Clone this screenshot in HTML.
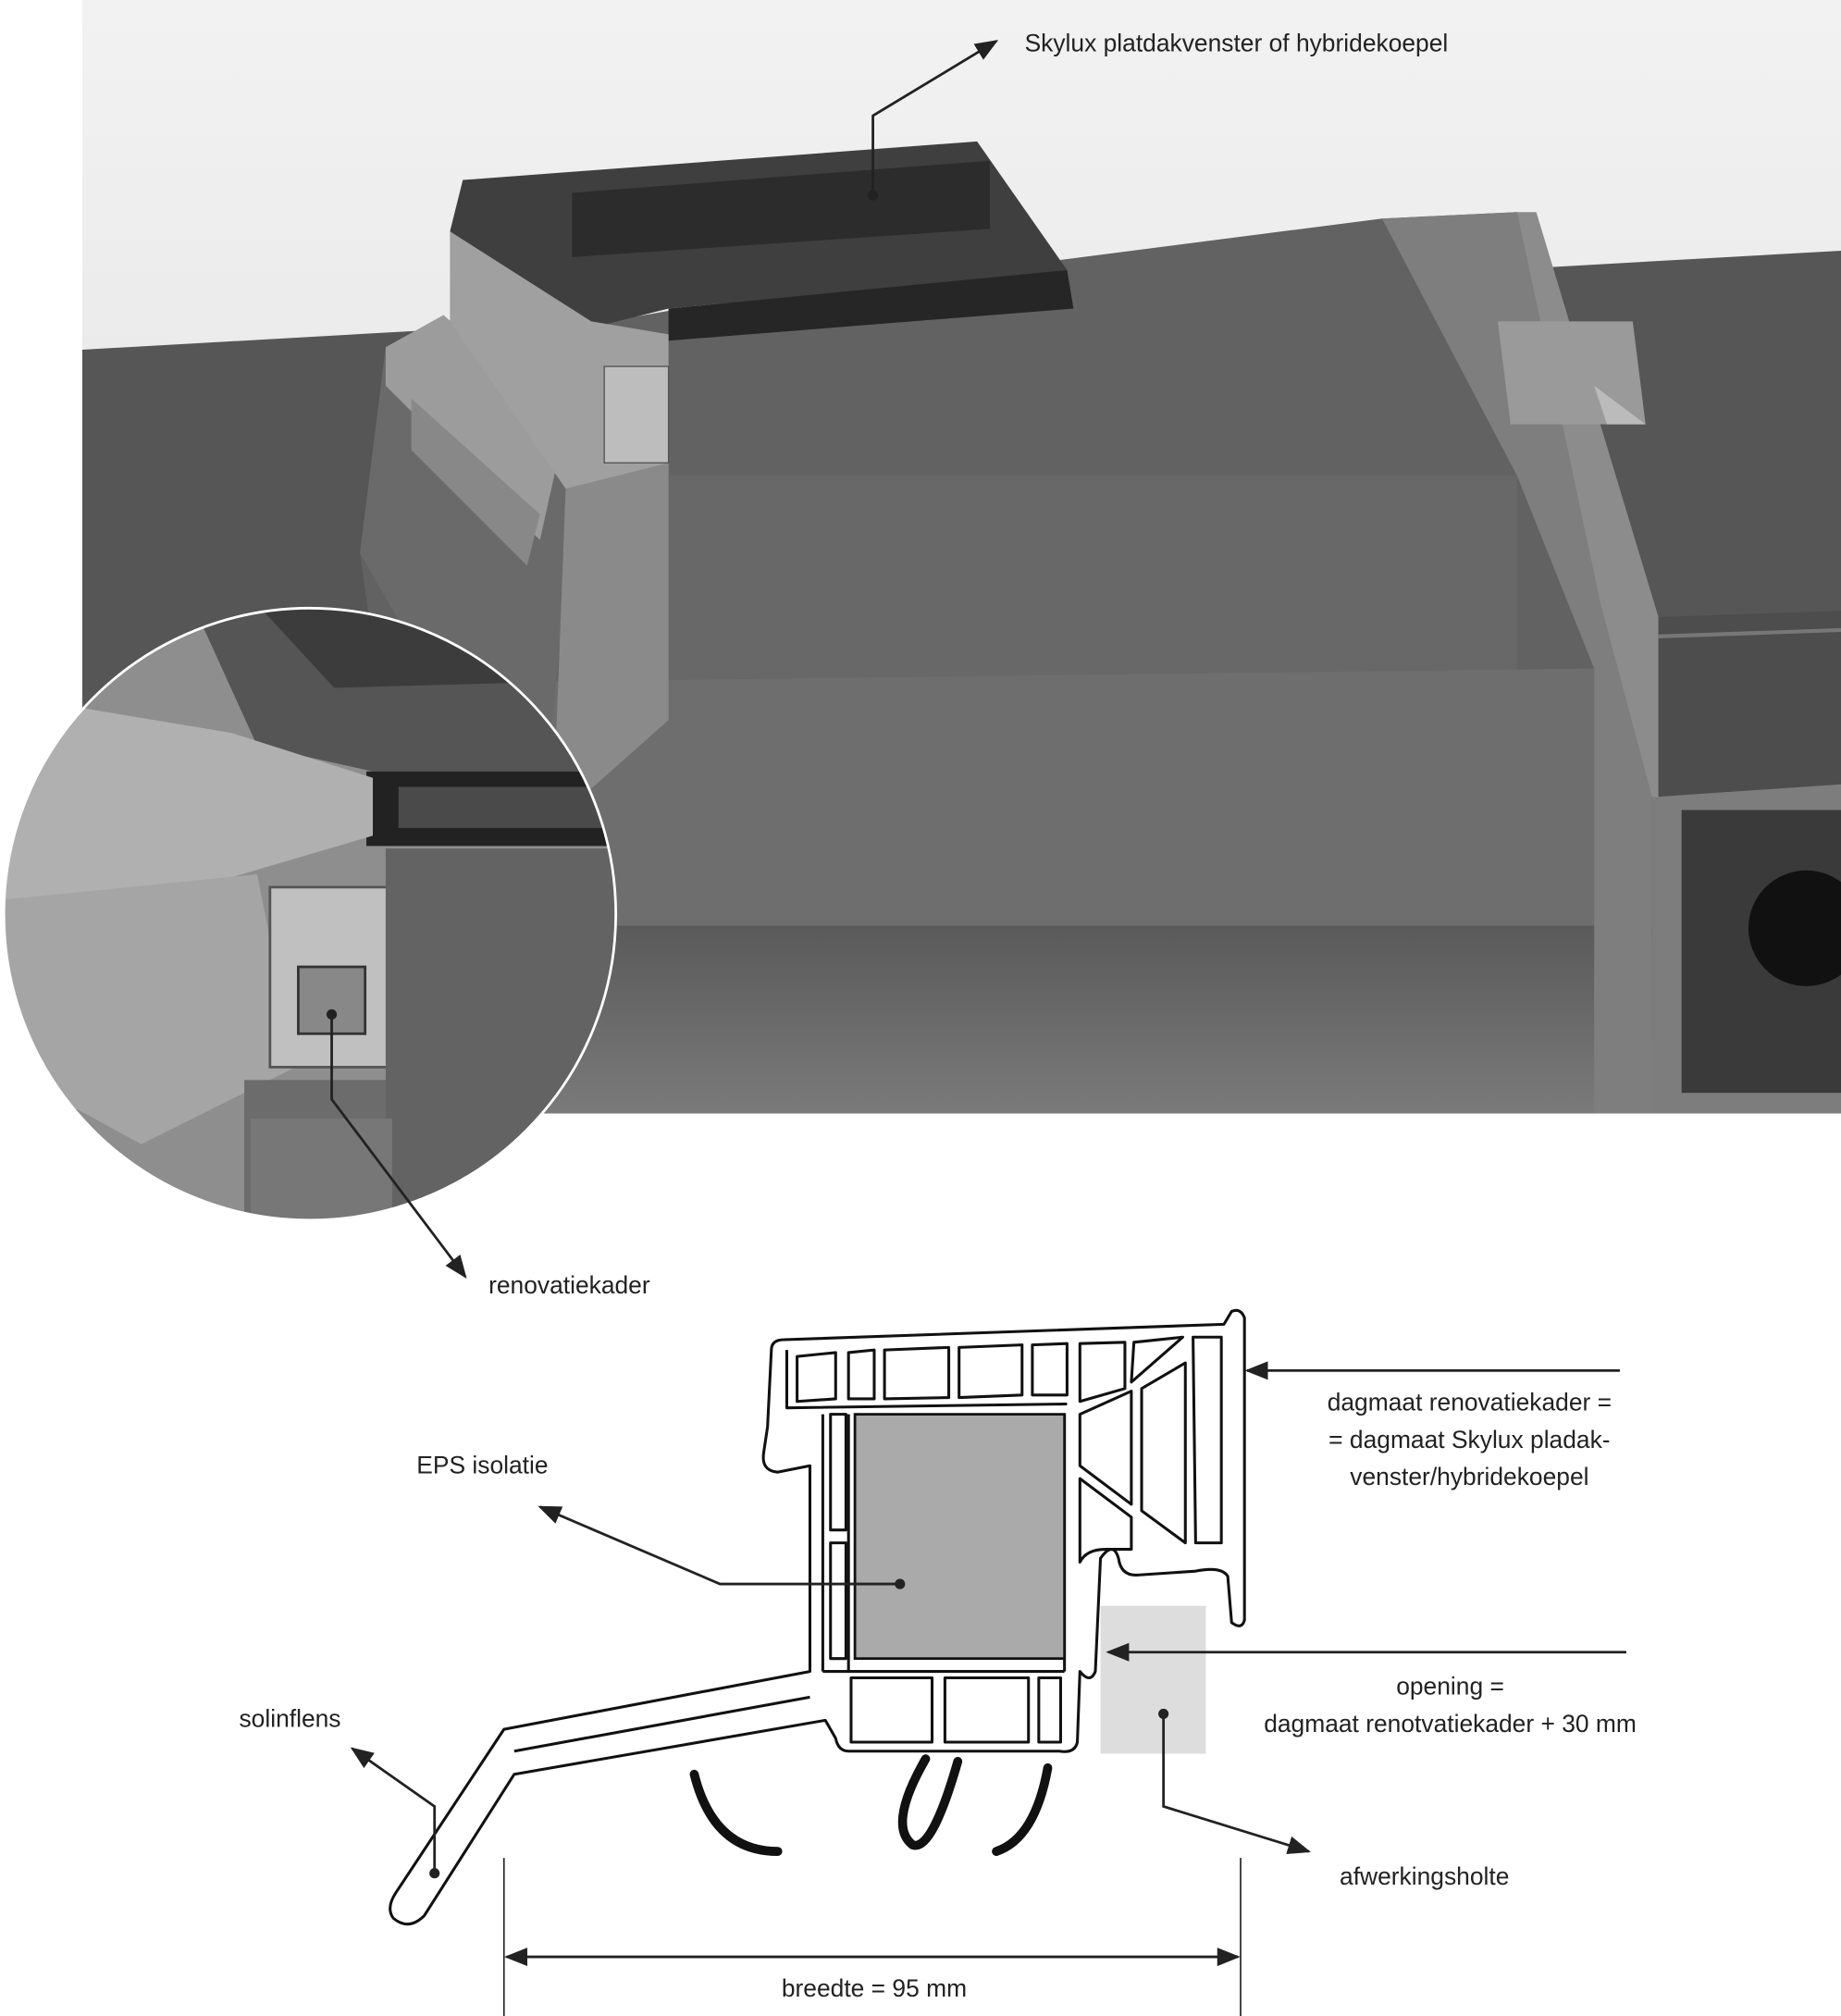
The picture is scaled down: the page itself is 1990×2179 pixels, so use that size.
<!DOCTYPE html>
<html><head><meta charset="utf-8">
<style>
html,body{margin:0;padding:0;background:#fff;}
svg{display:block;}
text{font-family:"Liberation Sans",sans-serif;font-size:19px;fill:#222;}
</style></head>
<body>
<svg width="1990" height="2179" viewBox="0 0 1432 1568" xmlns="http://www.w3.org/2000/svg">
<defs>
<linearGradient id="sky" x1="0" y1="0" x2="0" y2="1"><stop offset="0" stop-color="#f2f2f2"/><stop offset="1" stop-color="#dcdcdc"/></linearGradient>
<linearGradient id="floor" x1="0" y1="0" x2="0" y2="1"><stop offset="0" stop-color="#5a5a5a"/><stop offset="1" stop-color="#7a7a7a"/></linearGradient>
<clipPath id="circ"><circle cx="241" cy="711" r="238"/></clipPath>
<marker id="ah" viewBox="0 0 10 10" refX="9" refY="5" markerWidth="9" markerHeight="9" orient="auto-start-reverse"><path d="M0,1 L10,5 L0,9 z" fill="#222"/></marker>
</defs>

<!-- photo -->
<rect x="64" y="0" width="1368" height="866" fill="url(#sky)"/>
<polygon points="64,272 1432,195 1432,866 64,866" fill="#565656"/>
<!-- well -->
<polygon points="280,430 360,270 530,240 1075,170 1180,165 1290,480 1290,866 340,866" fill="#626262"/>
<polygon points="520,370 1180,370 1180,530 440,540" fill="#686868"/>
<polygon points="430,530 1240,520 1240,720 380,720" fill="#6e6e6e"/>
<polygon points="380,720 1290,720 1290,866 380,866" fill="url(#floor)"/>
<!-- right column -->
<polygon points="1075,170 1180,165 1245,470 1285,620 1285,866 1240,866 1240,520 1180,370" fill="#7e7e7e"/>
<polygon points="1180,165 1195,165 1290,480 1290,620 1285,620 1245,470" fill="#8c8c8c"/>
<polygon points="1165,250 1270,250 1280,330 1175,330" fill="#9a9a9a"/>
<polygon points="1240,300 1280,330 1250,330" fill="#bbb"/>
<polygon points="1290,480 1432,475 1432,620 1290,630" fill="#4d4d4d"/>
<line x1="1290" y1="495" x2="1432" y2="490" stroke="#777" stroke-width="3"/>
<polygon points="1285,620 1432,610 1432,866 1285,866" fill="#7d7d7d"/>
<rect x="1308" y="630" width="124" height="220" fill="#3a3a3a"/>
<circle cx="1405" cy="722" r="45" fill="#111"/>
<!-- left frame -->
<polygon points="280,430 300,270 360,245 450,340 430,560 380,640 320,500" fill="#6a6a6a"/>
<polygon points="300,270 345,245 440,330 420,420 300,300" fill="#9c9c9c"/>
<polygon points="320,310 420,400 410,440 320,350" fill="#888"/>
<polygon points="360,140 760,110 830,210 520,240 460,255 350,180" fill="#3f3f3f"/>
<polygon points="445,150 770,125 770,178 445,200" fill="#2c2c2c"/>
<polygon points="520,240 830,210 835,240 520,265" fill="#262626"/>
<polygon points="350,180 460,250 520,260 520,370 440,380 350,250" fill="#a0a0a0"/>
<polygon points="440,380 520,360 520,560 430,640" fill="#8a8a8a"/>
<rect x="470" y="285" width="50" height="75" fill="#bdbdbd" stroke="#555"/>

<!-- circle detail -->
<g clip-path="url(#circ)">
<rect x="0" y="470" width="480" height="480" fill="#8e8e8e"/>
<polygon points="150,470 480,470 480,600 290,600 200,580" fill="#555"/>
<polygon points="200,470 440,470 440,530 260,535" fill="#3c3c3c"/>
<rect x="285" y="600" width="200" height="58" fill="#222"/>
<rect x="310" y="612" width="170" height="32" fill="#4a4a4a"/>
<polygon points="0,540 180,570 290,605 290,650 120,700 0,760" fill="#b0b0b0"/>
<polygon points="0,700 200,680 230,830 110,890 0,830" fill="#a5a5a5"/>
<rect x="210" y="690" width="110" height="140" fill="#c0c0c0" stroke="#555" stroke-width="2"/>
<rect x="232" y="752" width="52" height="52" fill="#888" stroke="#333" stroke-width="2"/>
<rect x="190" y="840" width="130" height="110" fill="#6c6c6c"/>
<rect x="300" y="660" width="180" height="290" fill="#636363"/>
<rect x="195" y="870" width="110" height="80" fill="#777"/>
</g>
<circle cx="241" cy="711" r="238" fill="none" stroke="#fff" stroke-width="2"/>

<!-- photo annotations -->
<circle cx="679" cy="152" r="4" fill="#222"/>
<polyline points="679,152 679,90 775,32" fill="none" stroke="#222" stroke-width="2" marker-end="url(#ah)"/>
<text x="797" y="40">Skylux platdakvenster of hybridekoepel</text>
<circle cx="258" cy="789" r="4" fill="#222"/>
<polyline points="258,789 258,855 362,993" fill="none" stroke="#222" stroke-width="2" marker-end="url(#ah)"/>
<text x="380" y="1006">renovatiekader</text>

<!-- profile -->
<g fill="none" stroke="#111" stroke-width="2.2" stroke-linejoin="round">
<path d="M600,1050 Q600,1042 610,1042 L952,1030 L958,1020 Q965,1017 968,1025 L968,1260 Q966,1268 958,1262 L955,1226 Q950,1218 930,1222 L885,1225 Q872,1226 870,1212 Q866,1198 856,1212 L852,1300 Q848,1310 840,1300 L838,1355 Q836,1364 824,1362 L660,1362 Q652,1362 650,1352 L642,1338 L400,1380 L330,1490 Q318,1502 306,1492 Q300,1484 308,1472 L392,1345 L630,1300 L630,1140 L605,1145 Q592,1144 594,1130 L597,1110 Z"/>
<path d="M612,1050 L612,1095 L830,1092 M640,1100 L640,1300 M660,1100 L660,1300 M828,1100 L828,1300 M640,1300 L828,1300"/>
<path d="M620,1055 L650,1052 L650,1088 L620,1090 Z M660,1052 L680,1050 L680,1088 L660,1088 Z M688,1050 L738,1048 L738,1087 L688,1088 Z M746,1048 L795,1046 L795,1085 L746,1087 Z M803,1046 L830,1045 L830,1085 L803,1085 Z M840,1045 L875,1044 L875,1080 L840,1090 Z M882,1044 L920,1040 L880,1075 Z M928,1040 L950,1040 L950,1200 L930,1200 Z"/>
<path d="M840,1100 L880,1082 L880,1170 L840,1140 Z M888,1080 L922,1060 L922,1200 L888,1175 Z M840,1150 L880,1180 L880,1205 L860,1205 Q845,1205 840,1215 Z"/>
<path d="M646,1100 L658,1100 L658,1190 L646,1190 Z M646,1200 L658,1200 L658,1290 L646,1290 Z M662,1305 L725,1305 L725,1355 L662,1355 Z M735,1305 L800,1305 L800,1355 L735,1355 Z M808,1305 L825,1305 L825,1355 L808,1355 Z"/>
<path d="M400,1362 L630,1320"/>
</g>
<rect x="665" y="1100" width="163" height="190" fill="#aaaaaa" stroke="#111" stroke-width="2"/>
<rect x="856" y="1249" width="82" height="115" fill="#dddddd"/>
<!-- seals -->
<g fill="none" stroke="#111" stroke-width="7" stroke-linecap="round">
<path d="M540,1380 Q555,1440 605,1440"/>
<path d="M720,1368 Q690,1420 710,1435 Q725,1440 745,1370"/>
<path d="M815,1375 Q805,1430 775,1440"/>
</g>

<!-- dimension -->
<g stroke="#222" stroke-width="1.2"><line x1="392" y1="1445" x2="392" y2="1568"/><line x1="965" y1="1445" x2="965" y2="1568"/></g>
<line x1="394" y1="1522" x2="963" y2="1522" stroke="#222" stroke-width="2" marker-start="url(#ah)" marker-end="url(#ah)"/>
<text x="680" y="1553" text-anchor="middle">breedte = 95 mm</text>

<!-- diagram labels -->
<line x1="1260" y1="1066" x2="970" y2="1066" stroke="#222" stroke-width="2" marker-end="url(#ah)"/>
<text x="1143" y="1097" text-anchor="middle">dagmaat renovatiekader =</text>
<text x="1143" y="1126" text-anchor="middle">= dagmaat Skylux pladak-</text>
<text x="1143" y="1155" text-anchor="middle">venster/hybridekoepel</text>
<line x1="1265" y1="1285" x2="862" y2="1285" stroke="#222" stroke-width="2" marker-end="url(#ah)"/>
<text x="1128" y="1318" text-anchor="middle">opening =</text>
<text x="1128" y="1347" text-anchor="middle">dagmaat renotvatiekader + 30 mm</text>
<circle cx="700" cy="1232" r="4" fill="#222"/>
<polyline points="700,1232 560,1232 420,1172" fill="none" stroke="#222" stroke-width="2" marker-end="url(#ah)"/>
<text x="324" y="1146">EPS isolatie</text>
<circle cx="338" cy="1457" r="4" fill="#222"/>
<polyline points="338,1457 338,1405 274,1360" fill="none" stroke="#222" stroke-width="2" marker-end="url(#ah)"/>
<text x="186" y="1343">solinflens</text>
<circle cx="905" cy="1333" r="4" fill="#222"/>
<polyline points="905,1333 905,1405 1018,1440" fill="none" stroke="#222" stroke-width="2" marker-end="url(#ah)"/>
<text x="1042" y="1466">afwerkingsholte</text>
</svg>
</body></html>
